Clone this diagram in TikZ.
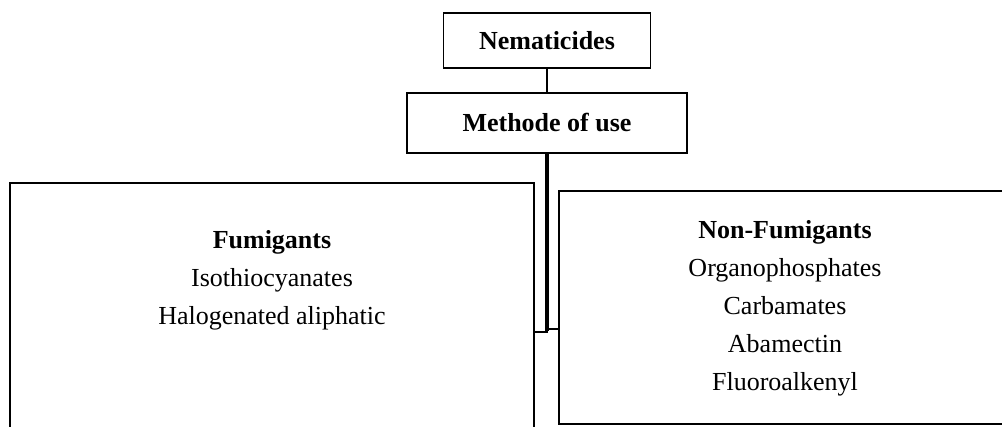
\documentclass[tikz,border=0pt]{standalone}
\usepackage{fontspec}
\setmainfont{Liberation Serif}
\begin{document}
\begin{tikzpicture}[x=1pt, y=-1pt,
    box/.style={draw, rectangle, line width=1.2pt, inner sep=0pt},
    head/.style={box, font=\fontsize{26}{30}\selectfont\bfseries},
    txt/.style={align=center, anchor=base, font=\fontsize{26}{38}\selectfont},
    link/.style={line width=1.4pt},
    trunk/.style={line width=4pt}]
  \useasboundingbox (0,0) rectangle (1002,426);

  % Top boxes
  \node[head, minimum width=207pt, minimum height=55pt] (nem) at (547,40.5) {Nematicides};
  \node[head, minimum width=280pt, minimum height=60pt] (meth) at (547,123) {Methode of use};

  % Branch boxes (cut by the page edge)
  \node[box, minimum width=524pt, minimum height=257pt] (fum) at (272,311.5) {};
  \node[box, minimum width=451pt, minimum height=233pt] (nonfum) at (784.5,307.5) {};

  % Box texts (base = last line)
  \node[txt] (fumtxt) at (272,324) {\textbf{Fumigants}\\Isothiocyanates\\Halogenated aliphatic};
  \node[txt] (nonfumtxt) at (785,390) {\textbf{Non-Fumigants}\\Organophosphates\\Carbamates\\Abamectin\\Fluoroalkenyl};

  % Connectors
  \coordinate (split) at (548,331);
  \draw[link] (nem) -- (meth);
  \draw[trunk] (meth.south) -- (meth.south |- split);
  \draw[link] ([yshift=-1pt]split) -- ([yshift=-1pt]split -| fum.east);
  \draw[link] ([yshift=2pt]split) -- ([yshift=2pt]split -| nonfum.west);

\end{tikzpicture}
\end{document}
